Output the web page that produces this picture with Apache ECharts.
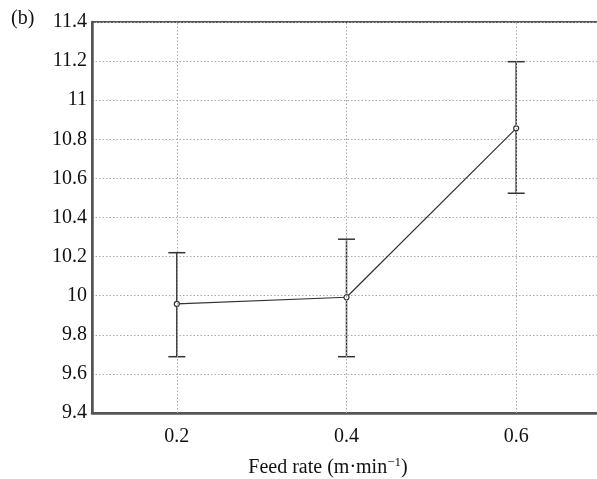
<!DOCTYPE html>
<html><head><meta charset="utf-8">
<script src="https://cdn.jsdelivr.net/npm/echarts@6/dist/echarts.min.js"></script>
<style>html,body{margin:0;padding:0;background:#fff}#c{width:597px;height:479px}</style>
</head><body><div id="c"></div>
<script>
const feedRates = [0.2, 0.4, 0.6];
const meanValues = [9.958, 9.992, 10.856];
const lowerValues = [9.688, 9.688, 10.524];
const upperValues = [10.22, 10.289, 11.197];
const xTicks = [0.2, 0.4, 0.6];

const FONT = '"Liberation Serif", "DejaVu Serif", serif';
const chart = echarts.init(document.getElementById('c'));
const meanData = feedRates.map((x, i) => [x, meanValues[i]]);
const errData = feedRates.map((x, i) => [x, lowerValues[i], upperValues[i]]);

chart.setOption({
  animation: false,
  backgroundColor: '#fff',
  grid: { left: 92, top: 22, width: 509, height: 391, outerBoundsMode: 'none', containLabel: false,
          show: true, borderColor: '#222', borderWidth: 1.5 },
  xAxis: {
    type: 'value', min: 0.1, max: 0.7, interval: 0.1,
    axisLine: { lineStyle: { color: '#555', width: 2.5 } },
    axisTick: { show: false },
    splitLine: { show: false },
    axisLabel: {
      fontFamily: FONT, fontSize: 20, color: '#111', margin: 14,
      formatter: v => { const r = parseFloat(v.toFixed(1)); return xTicks.some(t => Math.abs(t - r) < 1e-6) ? String(r) : ''; }
    }
  },
  yAxis: {
    type: 'value', min: 9.4, max: 11.4, interval: 0.2,
    axisLine: { show: true, lineStyle: { color: '#555', width: 2.5 } },
    axisTick: { show: false },
    splitLine: { lineStyle: { color: '#aaa', type: [1.5, 2], width: 1 } },
    axisLabel: {
      fontFamily: FONT, fontSize: 20, color: '#111', margin: 5,
      formatter: v => String(parseFloat(v.toFixed(1)))
    }
  },
  series: [
    {
      type: 'line', data: meanData, z: 3,
      lineStyle: { color: '#333', width: 1.2 },
      symbol: 'circle', symbolSize: 5,
      itemStyle: { color: '#fff', borderColor: '#333', borderWidth: 1.2 },
      markLine: {
        silent: true, symbol: 'none', label: { show: false },
        lineStyle: { color: '#aaa', type: [1.5, 2], width: 1 },
        data: xTicks.map(t => ({ xAxis: t }))
      }
    },
    {
      type: 'custom', data: errData, z: 2,
      renderItem: (params, api) => {
        const x = api.value(0);
        const lo = api.coord([x, api.value(1)]);
        const hi = api.coord([x, api.value(2)]);
        const w = 8.5;
        const style = { stroke: '#333', lineWidth: 1.5 };
        return { type: 'group', children: [
          { type: 'line', shape: { x1: lo[0], y1: lo[1], x2: hi[0], y2: hi[1] }, style },
          { type: 'line', shape: { x1: lo[0] - w, y1: lo[1], x2: lo[0] + w, y2: lo[1] }, style },
          { type: 'line', shape: { x1: hi[0] - w, y1: hi[1], x2: hi[0] + w, y2: hi[1] }, style }
        ]};
      }
    }
  ],
  graphic: [
    { type: 'text', left: 11, top: 9, style: { text: '(b)', fontFamily: FONT, fontSize: 20, fill: '#111' } },
    { type: 'text', x: 328, y: 467, style: {
        text: '{a|Feed rate (m·min}{s|−1}{a|)}', align: 'center', verticalAlign: 'middle',
        rich: {
          a: { fontFamily: FONT, fontSize: 20, fill: '#111', lineHeight: 22, verticalAlign: 'bottom' },
          s: { fontFamily: FONT, fontSize: 13, fill: '#111', lineHeight: 14, verticalAlign: 'top' }
        }
    } }
  ]
});
</script></body></html>
